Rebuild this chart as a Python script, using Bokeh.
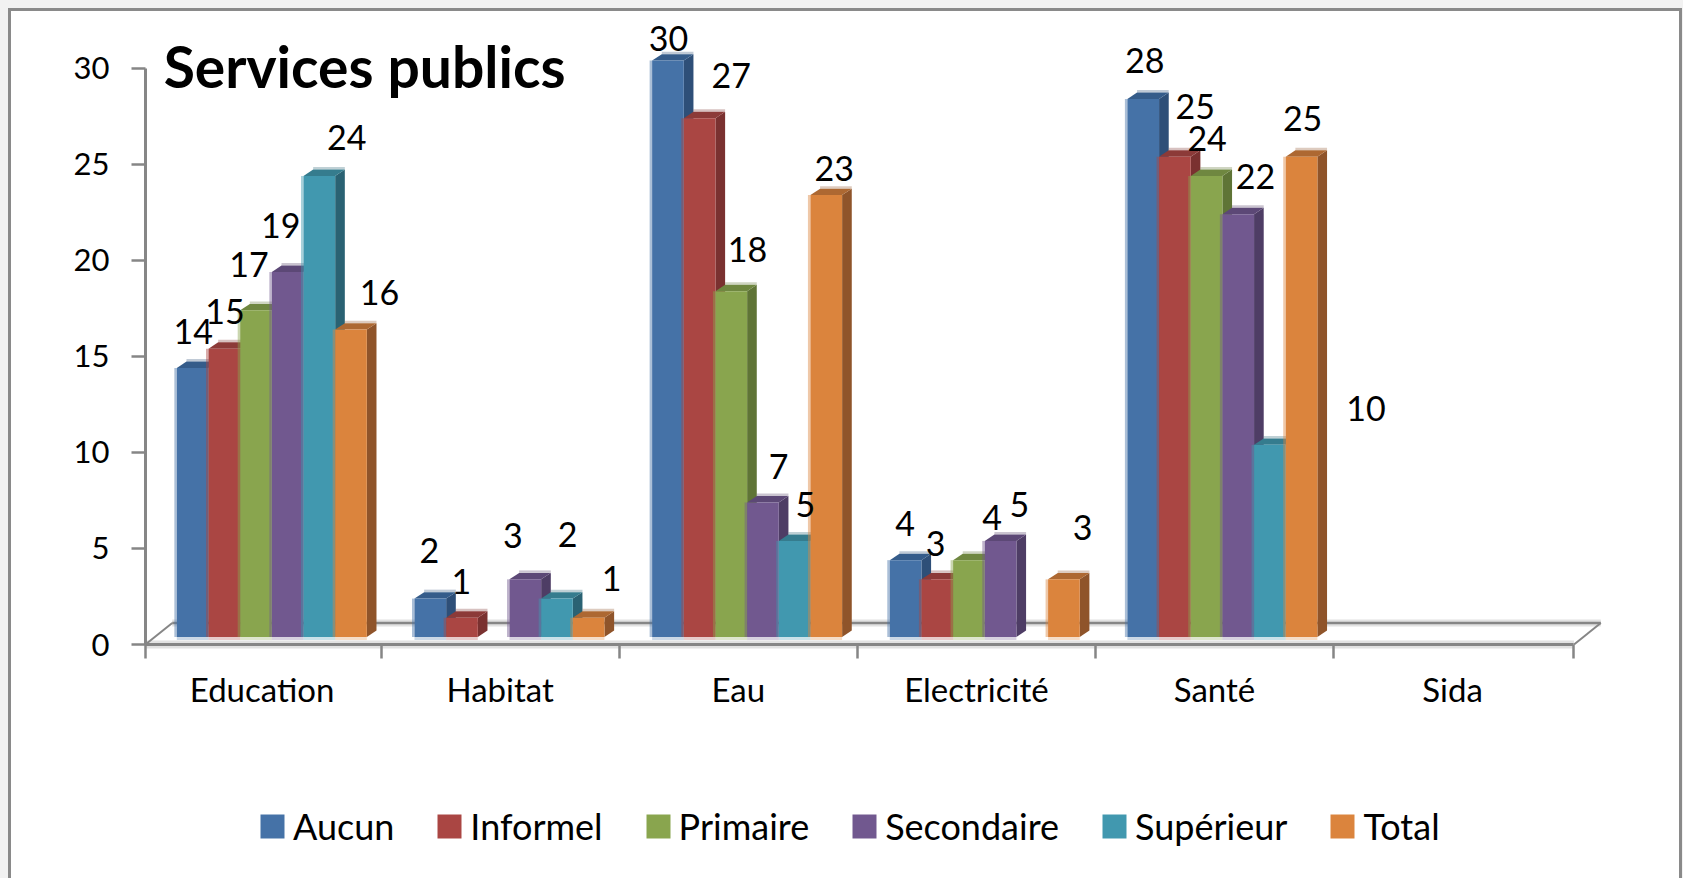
from bokeh.plotting import figure
from bokeh.embed import file_html
from bokeh.resources import INLINE
from bokeh.core.properties import value
from bokeh.models import (Range1d, FixedTicker, Label, Legend, LegendItem)

# ---------- data ----------
categories = ["Education", "Habitat", "Eau", "Electricité", "Santé", "Sida"]
aucun = [14, 2, 30, 4, 28, 0]
informel = [15, 1, 27, 3, 25, 0]
primaire = [17, 0, 18, 4, 24, 0]
secondaire = [19, 3, 7, 5, 22, 0]
superieur = [24, 2, 5, 0, 10, 0]
total = [16, 1, 23, 3, 25, 0]
series_names = ["Aucun", "Informel", "Primaire", "Secondaire", "Supérieur", "Total"]
y_ticks = [0, 5, 10, 15, 20, 25, 30]
title_text = "Services publics"

# ---------- styles ----------
front_colors = ["#4572A7", "#AA4643", "#89A54E", "#71588F", "#4198AF", "#DB843D"]
side_colors = ["#2E4F78", "#7A3130", "#5F7436", "#4E3D65", "#2A6273", "#8F542A"]
top_colors = ["#355C8A", "#8C3A38", "#6F8740", "#5C4876", "#357C8E", "#AD6832"]
FONT = "Lato"
GRAY = "#868686"

# label offsets from the top centre of each bar (reference px), per series then category
label_offsets = {
    0: [(-1, -34), (-2.5, -45), (-1, -21), (-2, -34), (0, -36)],
    1: [(-1, -34.5), (-2, -34), (28, -40), (-3, -33), (17.5, -46.5)],
    2: [(-8, -43), None, (13.5, -39), (20, -40), (-1, -35)],
    3: [(-8, -43), (-13, -41), (13, -34), (16, -33.5), (14.5, -35)],
    4: [(24, -36), (8.5, -60), (8.5, -33.5), None, (88, -34)],
    5: [(25, -35), (20, -37), (6, -25), (16, -48), (-0.5, -35.5)],
}

# ---------- geometry (page scale) ----------
S = 1683 / 1568
CW = 1683
CH = 878
X0 = 135 * S              # canvas x of category 0
Y0 = 600 * S              # canvas y of value 0
UX = 221.83 * S           # px per category
UY = 17.9 * S             # px per value unit
BASE = 7 / 17.9           # bars stand this far (in value units) behind the axis line
DX = 9 / 221.83           # depth in category units
DY = 6 / 17.9             # depth in value units
BW = 29.5 / 221.83        # bar width
START = 29.3 / 221.83     # first bar offset inside the category
PITCH = 221.4 / 221.83    # category pitch of the bar groups
TICK_SHIFT = 2.2 / 221.83

page_bg = ("linear-gradient(#fff,#fff) 11px 11px / 1668px 867px no-repeat, "
           "linear-gradient(#8a8a8a,#8a8a8a) 8px 8px / 1674px 870px no-repeat, #f2f2f2")

p = figure(width=CW, height=CH, output_backend="svg", toolbar_location=None,
           x_range=Range1d(-X0 / UX, (CW - X0) / UX), y_range=Range1d(-(CH - Y0) / UY, Y0 / UY),
           min_border_left=0, min_border_right=0, min_border_top=0, min_border_bottom=0,
           outline_line_color=None, background_fill_color=None, border_fill_color=None,
           styles={"background": page_bg})
p.grid.visible = False

# axes (fixed inside the full-canvas frame)
yax = p.yaxis[0]
yax.fixed_location = 0
yax.ticker = FixedTicker(ticks=y_ticks)
yax.bounds = (0, 30)
yax.axis_line_color = GRAY
yax.axis_line_width = 3
yax.major_tick_line_color = GRAY
yax.major_tick_line_width = 2.5
yax.major_tick_in = 0
yax.major_tick_out = 14
yax.minor_tick_line_color = None
yax.major_label_standoff = 22
yax.major_label_text_font = FONT
yax.major_label_text_font_size = "31px"
yax.major_label_text_color = "#000000"

n = len(categories)
xax = p.xaxis[0]
xax.fixed_location = 0
xax.ticker = FixedTicker(ticks=[i + 0.5 - TICK_SHIFT for i in range(n)],
                         minor_ticks=[0] + [i - TICK_SHIFT for i in range(1, n)] + [n])
xax.major_label_overrides = {i + 0.5 - TICK_SHIFT: c for i, c in enumerate(categories)}
xax.bounds = (0, n)
xax.axis_line_color = GRAY
xax.axis_line_width = 3
xax.major_tick_line_color = None
xax.major_tick_in = 0
xax.major_tick_out = 0
xax.minor_tick_line_color = GRAY
xax.minor_tick_line_width = 2.5
xax.minor_tick_in = 0
xax.minor_tick_out = 14
xax.major_label_standoff = 10
xax.major_label_text_font = FONT
xax.major_label_text_font_size = "33px"
xax.major_label_text_color = "#000000"

# floor of the 3D box
fx = 25 / 221.83
fy = 20 / 17.9
p.line([fx, n + fx], [fy, fy], line_color="#e2e2e2", line_width=7)
p.line([0, n], [0, 0], line_color="#e2e2e2", line_width=8, level="underlay")
p.line([fx, n + fx], [fy, fy], line_color=GRAY, line_width=2.5)
p.line([0, fx], [0, fy], line_color=GRAY, line_width=2)
p.line([n, n + fx], [0, fy], line_color=GRAY, line_width=2)

# bars
all_series = [aucun, informel, primaire, secondaire, superieur, total]
legend_items = []
lab_x, lab_y, lab_t, lab_dx, lab_dy = [], [], [], [], []
EDGE = 2.5 / UX
for s, vals in enumerate(all_series):
    side_x, side_y, top_x, top_y = [], [], [], []
    left, right, tops, bottoms = [], [], [], []
    for c, v in enumerate(vals):
        if v == 0:
            continue
        x0 = c * PITCH + START + s * BW
        x1 = x0 + BW
        t = v + BASE
        side_x.append([x1, x1 + DX, x1 + DX, x1])
        side_y.append([BASE, BASE + DY, t + DY, t])
        top_x.append([x0, x1, x1 + DX, x0 + DX])
        top_y.append([t, t, t + DY, t + DY])
        left.append(x0); right.append(x1); tops.append(t); bottoms.append(BASE)
        off = label_offsets[s][c]
        lab_x.append(x0 + BW / 2); lab_y.append(t); lab_t.append(str(v))
        lab_dx.append((off[0] + 1.5) * S); lab_dy.append(off[1] * S)
    # soft glow under, above and at the left of each bar
    p.quad(left=left, right=right, top=bottoms, bottom=[b - 0.16 for b in bottoms],
           fill_color=front_colors[s], fill_alpha=0.28, line_color=None)
    p.quad(left=[l + DX for l in left], right=[r_ + DX for r_ in right],
           top=[t + DY + 0.13 for t in tops], bottom=[t + DY for t in tops],
           fill_color=side_colors[s], fill_alpha=0.3, line_color=None)
    p.patches(side_x, side_y, fill_color=side_colors[s], line_color=None)
    p.patches(top_x, top_y, fill_color=top_colors[s], line_color=None)
    p.quad(left=[l - EDGE for l in left], right=left, top=tops, bottom=bottoms,
           fill_color=front_colors[s], fill_alpha=0.45, line_color=None)
    r = p.quad(left=left, right=right, top=tops, bottom=bottoms,
               fill_color=front_colors[s], line_color=None)
    legend_items.append(LegendItem(label=series_names[s], renderers=[r]))

# data labels
p.text(lab_x, lab_y, text=lab_t, x_offset=lab_dx, y_offset=lab_dy,
       text_font=value(FONT), text_font_size="34px", text_color="#000000",
       text_align="center", text_baseline="middle")

# title
p.add_layout(Label(x=(152 - 135) / 221.83, y=(600 - 61) / 17.9,
                   text=title_text, text_font=FONT, text_font_size="57px", text_font_style="bold",
                   text_color="#000000", text_baseline="middle", text_align="left"))

# legend
legend = Legend(items=legend_items, orientation="horizontal", ncols=6,
                location=(int(243 * S) - 3, 30), border_line_color=None,
                background_fill_alpha=0, glyph_width=30, glyph_height=30,
                label_standoff=6, spacing=40, padding=0, margin=0,
                label_text_font=FONT, label_text_font_size="36px", label_text_color="#000000")
p.add_layout(legend, "center")

open("out.html", "w").write(file_html(p, INLINE))
